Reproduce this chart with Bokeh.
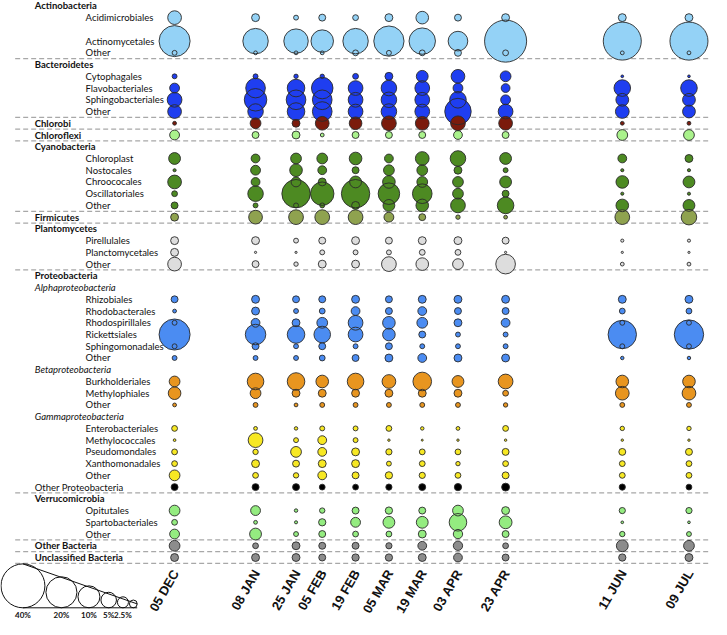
import math
from datetime import date
from bokeh.plotting import figure
from bokeh.models import Range1d, ColumnDataSource
from bokeh.core.properties import value
from bokeh.embed import file_html
from bokeh.resources import INLINE

# ---------------- data ----------------
date_labels = ["05 DEC", "08 JAN", "25 JAN", "05 FEB", "19 FEB", "05 MAR",
               "19 MAR", "03 APR", "23 APR", "11 JUN", "09 JUL"]
sample_dates = ["2012-12-05", "2013-01-08", "2013-01-25", "2013-02-05", "2013-02-19",
                "2013-03-05", "2013-03-19", "2013-04-03", "2013-04-23", "2013-06-11",
                "2013-07-09"]

# relative abundance (%) per sample
acidimicrobiales = [3.9, 1.3, 0.5, 1.0, 0.7, 1.3, 3.3, 1.0, 1.3, 1.3, 1.3]
actinomycetales = [20, 13.4, 12.4, 10.5, 13.4, 19, 14.5, 8, 36.7, 30, 30]
actino_other = [0.5, 0.3, 0.3, 0.3, 0.7, 0.5, 0.7, 1.0, 0.7, 0.3, 0.3]
cytophagales = [0.5, 0.5, 0.4, 0.4, 0.7, 1.3, 2.9, 3.9, 2.4, 0.15, 0.15]
flavobacteriales = [2, 8, 6.4, 9.6, 4.5, 5, 4.5, 2, 1.6, 5.7, 5.7]
sphingobacteriales = [4.5, 10.5, 8, 8, 4.5, 5, 4.5, 5.7, 2, 3.4, 3.4]
bactero_other = [3.9, 5, 6.4, 8, 4.5, 5, 4.5, 14.5, 4.5, 3.9, 3.4]
chlorobi = [0.3, 2.4, 1.3, 3.9, 3.3, 4.5, 3.9, 4.5, 3.9, 0.3, 0.3]
chloroflexi = [2, 1, 1.3, 0.3, 1, 1, 1, 1.6, 1, 2.4, 2.4]
chloroplast = [2.9, 1.6, 2.4, 2.4, 3.3, 1.6, 3.9, 5, 2.9, 1.6, 1.3]
nostocales = [0.2, 2, 3.3, 1.6, 1, 2.4, 2.4, 1.3, 0.5, 0.2, 0.2]
chroococales = [3.9, 1.6, 2, 1.3, 2.9, 3.3, 2.4, 2.4, 2.9, 3.3, 2.9]
oscillatoriales = [0.7, 5, 16.7, 11.4, 16.7, 9.6, 8, 2.4, 1, 0.2, 0.2]
cyano_other = [1, 0.5, 0.5, 0.5, 1.3, 2.9, 3.3, 4.5, 5.7, 3.3, 2.9]
firmicutes = [1.3, 3.9, 4.5, 4.5, 4.5, 2, 1, 0.4, 0.3, 4.5, 5]
pirellulales = [1.3, 1.3, 0.5, 1, 1.3, 1, 1.3, 1.3, 1, 0.2, 0.2]
planctomycetales = [1.3, 0.1, 0.1, 0.5, 0.5, 0.5, 0.7, 0.7, 0.1, 0.1, 0.1]
plancto_other = [3.9, 1, 0.4, 1.3, 1.3, 4.5, 3.3, 2.4, 8, 0.3, 0.3]
rhizobiales = [1, 1.3, 1, 1, 1.3, 1, 1.3, 1.3, 1.3, 1.3, 1.3]
rhodobacterales = [0.3, 1.3, 0.5, 0.7, 1.6, 1, 1.6, 1, 1, 0.7, 0.7]
rhodospirillales = [0.5, 1.6, 1.3, 2.4, 4.5, 3.3, 2.4, 1.3, 1.6, 0.5, 0.5]
rickettsiales = [20, 8.7, 6.4, 5.7, 4.5, 3.3, 1, 0.5, 0.5, 16.7, 17.9]
sphingomonadales = [0.5, 1, 0.5, 1, 0.5, 1, 0.5, 0.5, 0.5, 0.5, 0.5]
alpha_other = [0.5, 0.5, 0.5, 0.7, 1, 1.3, 1.6, 1.3, 1.3, 0.25, 0.25]
burkholderiales = [2.4, 5.7, 6.4, 3.3, 5.7, 3.9, 7.2, 2.9, 4.5, 3.3, 3.3]
methylophiales = [3.3, 2.4, 1.3, 1.3, 1.3, 1.3, 1.3, 1.3, 0.7, 3.9, 3.9]
beta_other = [0.3, 0.5, 0.3, 0.5, 0.5, 0.5, 0.5, 0.5, 0.4, 0.5, 0.5]
enterobacteriales = [0.7, 0.3, 0.25, 0.5, 0.5, 0.7, 0.25, 0.3, 0.7, 0.4, 0.4]
methylococcales = [0.15, 4.5, 0.5, 1.6, 0.5, 0.12, 0.08, 0.12, 0.12, 0.12, 0.12]
pseudomondales = [0.7, 0.6, 2.4, 1.6, 1.3, 0.8, 0.7, 0.7, 1, 1, 1]
xanthomonadales = [0.7, 1.3, 1, 1.3, 1.3, 0.5, 0.7, 0.4, 0.7, 0.7, 0.7]
gamma_other = [2.4, 0.7, 0.6, 1.6, 1, 1.1, 0.8, 0.7, 1, 0.7, 0.7]
other_proteobacteria = [1, 1, 1, 0.7, 0.7, 0.8, 1, 1.1, 1.3, 0.8, 0.7]
opitutales = [2.4, 2, 0.25, 0.6, 1, 1.1, 1, 2.4, 1.3, 0.8, 0.8]
spartobacteriales = [0.7, 0.3, 0.2, 1.1, 2, 2.9, 2.9, 6.4, 3.4, 0.15, 0.15]
verruco_other = [2, 2.9, 0.5, 1, 0.7, 0.7, 1.3, 1.8, 1, 0.6, 0.5]
other_bacteria = [2.4, 0.7, 1.3, 1, 1, 0.8, 1.6, 1.8, 0.7, 2.9, 2.4]
unclassified_bacteria = [1.3, 1.3, 1.3, 1, 1.1, 1.1, 1.3, 1.6, 1, 1.1, 1.3]

legend_pcts = [40, 20, 10, 5, 2.5, 1.25]
legend_labels = ["40%", "20%", "10%", "5%", "2.5%", ""]

# ---------------- styles ----------------
C_ACTINO = "#94D2F6"
C_BACT = "#1F3EF0"
C_CHLOROBI = "#7B1B0C"
C_CHLOROFLEXI = "#AAF28C"
C_CYANO = "#4D8A22"
C_FIRM = "#8FA24F"
C_PLANC = "#DDDDDD"
C_ALPHA = "#4B8CF2"
C_BETA = "#E8951F"
C_GAMMA = "#F7E823"
C_OPROT = "#000000"
C_VERR = "#94EC80"
C_OTHER = "#8C8C8C"

# groups: list of (label, style, values, color)
groups = [
    [("Actinobacteria", "bold", None, None),
     ("Acidimicrobiales", "sub", acidimicrobiales, C_ACTINO),
     ("", "blank", None, None),
     ("Actinomycetales", "sub", actinomycetales, C_ACTINO),
     ("Other", "sub", actino_other, C_ACTINO)],
    [("Bacteroidetes", "bold", None, None),
     ("Cytophagales", "sub", cytophagales, C_BACT),
     ("Flavobacteriales", "sub", flavobacteriales, C_BACT),
     ("Sphingobacteriales", "sub", sphingobacteriales, C_BACT),
     ("Other", "sub", bactero_other, C_BACT)],
    [("Chlorobi", "bold", chlorobi, C_CHLOROBI)],
    [("Chloroflexi", "bold", chloroflexi, C_CHLOROFLEXI)],
    [("Cyanobacteria", "bold", None, None),
     ("Chloroplast", "sub", chloroplast, C_CYANO),
     ("Nostocales", "sub", nostocales, C_CYANO),
     ("Chroococales", "sub", chroococales, C_CYANO),
     ("Oscillatoriales", "sub", oscillatoriales, C_CYANO),
     ("Other", "sub", cyano_other, C_CYANO)],
    [("Firmicutes", "bold", firmicutes, C_FIRM)],
    [("Plantomycetes", "bold", None, None),
     ("Pirellulales", "sub", pirellulales, C_PLANC),
     ("Planctomycetales", "sub", planctomycetales, C_PLANC),
     ("Other", "sub", plancto_other, C_PLANC)],
    [("Proteobacteria", "bold", None, None),
     ("Alphaproteobacteria", "italic", None, None),
     ("Rhizobiales", "sub", rhizobiales, C_ALPHA),
     ("Rhodobacterales", "sub", rhodobacterales, C_ALPHA),
     ("Rhodospirillales", "sub", rhodospirillales, C_ALPHA),
     ("Rickettsiales", "sub", rickettsiales, C_ALPHA),
     ("Sphingomonadales", "sub", sphingomonadales, C_ALPHA),
     ("Other", "sub", alpha_other, C_ALPHA),
     ("Betaproteobacteria", "italic", None, None),
     ("Burkholderiales", "sub", burkholderiales, C_BETA),
     ("Methylophiales", "sub", methylophiales, C_BETA),
     ("Other", "sub", beta_other, C_BETA),
     ("Gammaproteobacteria", "italic", None, None),
     ("Enterobacteriales", "sub", enterobacteriales, C_GAMMA),
     ("Methylococcales", "sub", methylococcales, C_GAMMA),
     ("Pseudomondales", "sub", pseudomondales, C_GAMMA),
     ("Xanthomonadales", "sub", xanthomonadales, C_GAMMA),
     ("Other", "sub", gamma_other, C_GAMMA),
     ("Other Proteobacteria", "plain", other_proteobacteria, C_OPROT)],
    [("Verrucomicrobia", "bold", None, None),
     ("Opitutales", "sub", opitutales, C_VERR),
     ("Spartobacteriales", "sub", spartobacteriales, C_VERR),
     ("Other", "sub", verruco_other, C_VERR)],
    [("Other Bacteria", "bold", other_bacteria, C_OTHER)],
    [("Unclassified Bacteria", "bold", unclassified_bacteria, C_OTHER)],
]

# ---------------- geometry ----------------
W, H = 711, 619
SX, SY = W / 727.0, H / 635.0
PX_PER_DAY = 2.435 * SX
DAY0_PX = 178.0 * SX
ROW_PX = 12.04 * SY
ROW0_PX = 5.4
K = 7.1 * SX  # bubble diameter (px) per sqrt(%)

def xd(px):
    return (px - DAY0_PX) / PX_PER_DAY

def yr(py):
    return (py - ROW0_PX) / ROW_PX

d0 = date.fromisoformat(sample_dates[0])
days = [(date.fromisoformat(s) - d0).days for s in sample_dates]

p = figure(width=W, height=H, output_backend="svg", toolbar_location=None,
           x_range=Range1d(xd(0), xd(W)), y_range=Range1d(yr(H), yr(0)),
           x_axis_type=None, y_axis_type=None, min_border=0)
p.grid.visible = False
p.outline_line_color = None
p.background_fill_color = "white"

FONT = value("Lato")
lab = {"bold": ([], []), "sub": ([], []), "italic": ([], []), "plain": ([], [])}
bx, by, bs, bc = [], [], [], []
sep_rows = []
row = 0
for g in groups:
    for (name, style, vals, col) in g:
        if style != "blank":
            lab[style][0].append(row)
            lab[style][1].append(name)
        if vals is not None:
            for d, v in zip(days, vals):
                bx.append(d)
                by.append(row)
                bs.append(K * math.sqrt(v))
                bc.append(col)
        row += 1
    sep_rows.append(row - 0.5)

# separators
p.segment(x0=[xd(15 * SX)] * len(sep_rows), x1=[xd(W)] * len(sep_rows), y0=sep_rows, y1=sep_rows,
          line_color="#A8A8A8", line_width=1.3, line_dash="5 3")

# row labels (drawn beneath the bubbles)
for style, xpx, fstyle in [("bold", 35, "bold"), ("plain", 35, "normal"),
                           ("italic", 35, "italic"), ("sub", 87, "normal")]:
    rows_, names = lab[style]
    p.text(x=[xd(xpx * SX)] * len(rows_), y=rows_, text=names, text_font=FONT,
           text_font_size="9.5px", text_font_style=fstyle,
           text_baseline="middle", text_align="left", text_color="#111111")

# bubbles: fills then outlines
src = ColumnDataSource(dict(x=bx, y=by, s=bs, c=bc))
p.scatter("x", "y", size="s", source=src, fill_color="c", line_color=None)
p.scatter("x", "y", size="s", source=src, fill_color=None, line_color="#2a2a2a", line_width=0.9)

# date labels
p.text(x=[d + 1 / PX_PER_DAY for d in days], y=[yr(585 * SY)] * len(days), text=date_labels,
       angle=math.radians(60), text_align="right", text_baseline="middle",
       text_font=value("Liberation Sans"), text_font_style="bold", text_font_size="13px",
       text_color="#111111")

# size legend
base = 623 * SY
diam = [K * math.sqrt(v) for v in legend_pcts]
cxs = []
left = 0.5
for dd in diam:
    cxs.append(left + dd / 2)
    left += dd + 1.0
p.scatter([xd(c) for c in cxs], [yr(base - dd / 2) for dd in diam], size=diam,
          fill_color="white", line_color="#111111", line_width=1)
p.line([xd(cxs[0]), xd(cxs[-1] + diam[-1] / 2)], [yr(base - diam[0]), yr(base - diam[-1] / 2)],
       line_color="#111111", line_width=1)
p.line([xd(cxs[0]), xd(cxs[-1] + diam[-1] / 2)], [yr(base), yr(base)],
       line_color="#111111", line_width=1)
p.text(x=[xd(c) for c in cxs], y=[yr(630 * SY)] * len(cxs), text=legend_labels, text_font=FONT,
       text_font_size="8px", text_font_style="bold", text_align="center", text_baseline="middle",
       text_color="#111111")

open("out.html", "w").write(file_html(p, INLINE))
